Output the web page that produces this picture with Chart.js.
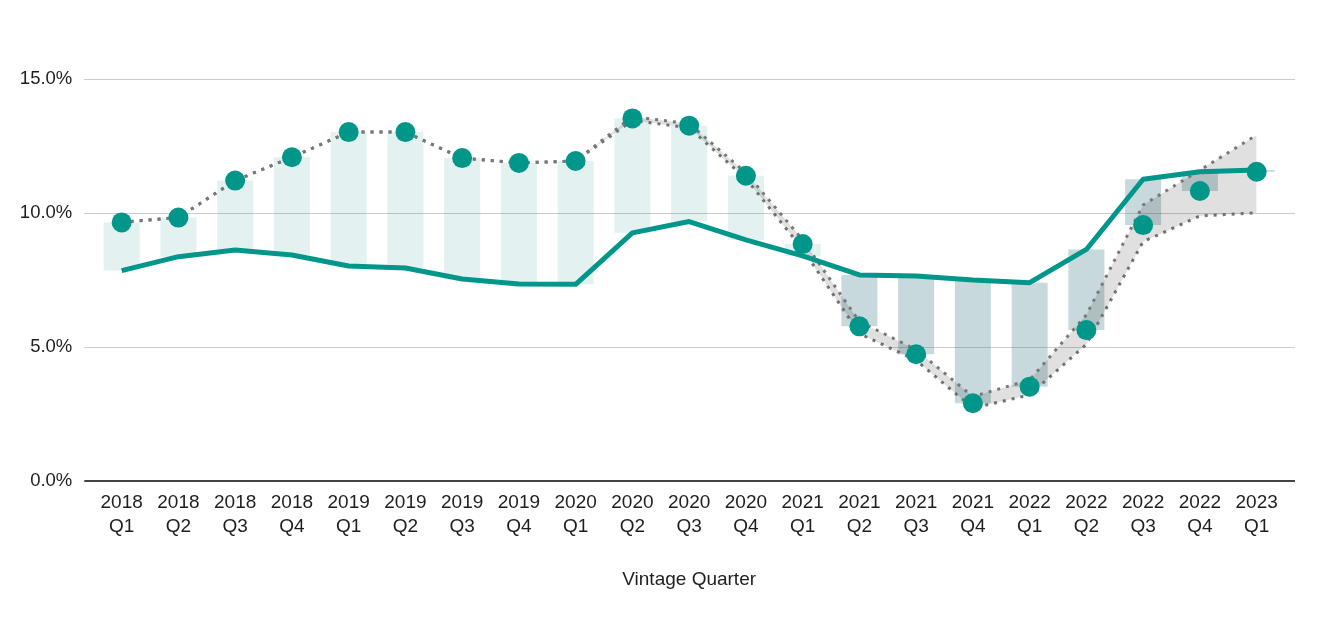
<!DOCTYPE html>
<html>
  <head>
    <script src="https://cdn.jsdelivr.net/npm/chart.js@4/dist/chart.umd.min.js"></script>
    <style>
      body { margin: 0; background: #fff; }
      #wrap { width: 1328px; height: 636px; }
    </style>
  </head>

  <body>
    <div id="wrap">
      <canvas id="canvas"></canvas>
    </div>
    <script>
      const quarters = [
        ['2018', 'Q1'], ['2018', 'Q2'], ['2018', 'Q3'], ['2018', 'Q4'],
        ['2019', 'Q1'], ['2019', 'Q2'], ['2019', 'Q3'], ['2019', 'Q4'],
        ['2020', 'Q1'], ['2020', 'Q2'], ['2020', 'Q3'], ['2020', 'Q4'],
        ['2021', 'Q1'], ['2021', 'Q2'], ['2021', 'Q3'], ['2021', 'Q4'],
        ['2022', 'Q1'], ['2022', 'Q2'], ['2022', 'Q3'], ['2022', 'Q4'],
        ['2023', 'Q1'],
      ];
      // teal dots
      const actual = [9.65, 9.83, 11.21, 12.08, 13.02, 13.02, 12.05, 11.87, 11.94, 13.53, 13.26, 11.39,
        8.84, 5.77, 4.73, 2.90, 3.52, 5.63, 9.55, 10.82, 11.54];
      // solid teal line
      const baseline = [7.85, 8.37, 8.62, 8.43, 8.02, 7.95, 7.54, 7.35, 7.34, 9.26, 9.68, 9.0,
        8.4, 7.69, 7.65, 7.5, 7.4, 8.64, 11.26, 11.54, 11.6];
      // grey dotted band
      const bandHigh = [9.65, 9.83, 11.21, 12.08, 13.02, 13.02, 12.05, 11.87, 11.94, 13.6, 13.33, 11.5,
        9.0, 5.95, 4.9, 3.15, 3.77, 6.2, 10.3, 11.6, 12.91];
      const bandLow = [9.65, 9.83, 11.21, 12.08, 13.02, 13.02, 12.05, 11.87, 11.94, 13.45, 13.18, 11.28,
        8.65, 5.5, 4.5, 2.72, 3.21, 5.1, 8.93, 9.89, 10.01];
      const yTicks = [0, 5, 10, 15];

      const teal = '#00978a';
      const dotGrey = '#787878';
      const gridColor = (c) => (c.tick && c.tick.value === 0 ? '#444' : '#cccccc');
      const gridWidth = (c) => (c.tick && c.tick.value === 0 ? 2 : 1);

      const spans = baseline.map((b, i) => [b, actual[i]]);

      new Chart(document.getElementById('canvas').getContext('2d'), {
        data: {
          labels: quarters,
          datasets: [
            {
              type: 'line',
              data: actual,
              showLine: false,
              pointRadius: 10,
              pointBackgroundColor: teal,
              pointBorderWidth: 0,
              order: 0,
            },
            {
              type: 'line',
              data: baseline,
              borderColor: teal,
              borderWidth: 5,
              pointRadius: 0,
              borderJoinStyle: 'round',
              order: 1,
            },
            {
              type: 'line',
              data: bandHigh,
              borderColor: dotGrey,
              borderWidth: 3,
              borderDash: [3, 6],
              pointRadius: 0,
              fill: '+1',
              backgroundColor: 'rgba(0,0,0,0.12)',
              order: 2,
            },
            {
              type: 'line',
              data: bandLow,
              borderColor: dotGrey,
              borderWidth: 3,
              borderDash: [3, 6],
              pointRadius: 0,
              fill: false,
              order: 3,
            },
            {
              type: 'bar',
              data: spans,
              backgroundColor: (c) => {
                const v = c.raw;
                if (!v) return 'rgba(0,128,128,0.11)';
                return v[1] >= v[0] ? 'rgba(0,128,128,0.11)' : 'rgba(69,130,140,0.3)';
              },
              borderWidth: 0,
              barPercentage: 1,
              categoryPercentage: 0.635,
              order: 4,
            },
          ],
        },
        options: {
          responsive: true,
          maintainAspectRatio: false,
          animation: false,
          layout: { padding: { top: 79, left: 0, right: 33, bottom: 0 } },
          plugins: {
            legend: { display: false },
            tooltip: { enabled: false },
          },
          scales: {
            x: {
              offset: true,
              grid: { display: false, drawTicks: false },
              border: { display: false },
              ticks: {
                color: '#1e1e1e',
                font: { family: 'Liberation Sans, Arial', size: 19, lineHeight: 1.27 },
                padding: 10,
                maxRotation: 0,
                autoSkip: false,
              },
              title: {
                display: true,
                text: 'Vintage Quarter',
                color: '#1e1e1e',
                font: { family: 'Liberation Sans, Arial', size: 19 },
                padding: { top: 0, bottom: 45 },
              },
              afterFit: (s) => { s.height = 155; },
            },
            y: {
              min: 0,
              max: 15,
              afterBuildTicks: (s) => { s.ticks = yTicks.map((v) => ({ value: v })); },
              grid: { color: gridColor, lineWidth: gridWidth, tickLength: 9, tickColor: gridColor, tickWidth: gridWidth },
              border: { display: false },
              ticks: {
                color: '#1e1e1e',
                font: { family: 'Liberation Sans, Arial', size: 18.5 },
                padding: 12,
                callback: (v) => v.toFixed(1) + '%',
              },
              afterFit: (s) => { s.width = 93.3; },
            },
            y2: {
              position: 'right',
              min: 0,
              max: 15,
              afterBuildTicks: (s) => { s.ticks = yTicks.map((v) => ({ value: v })); },
              grid: { drawOnChartArea: false, tickLength: 10, color: gridColor, lineWidth: gridWidth, tickColor: gridColor, tickWidth: gridWidth },
              border: { display: false },
              ticks: { display: false },
              afterFit: (s) => { s.width = 10; },
            },
          },
        },
      });
    </script>
  </body>
</html>
